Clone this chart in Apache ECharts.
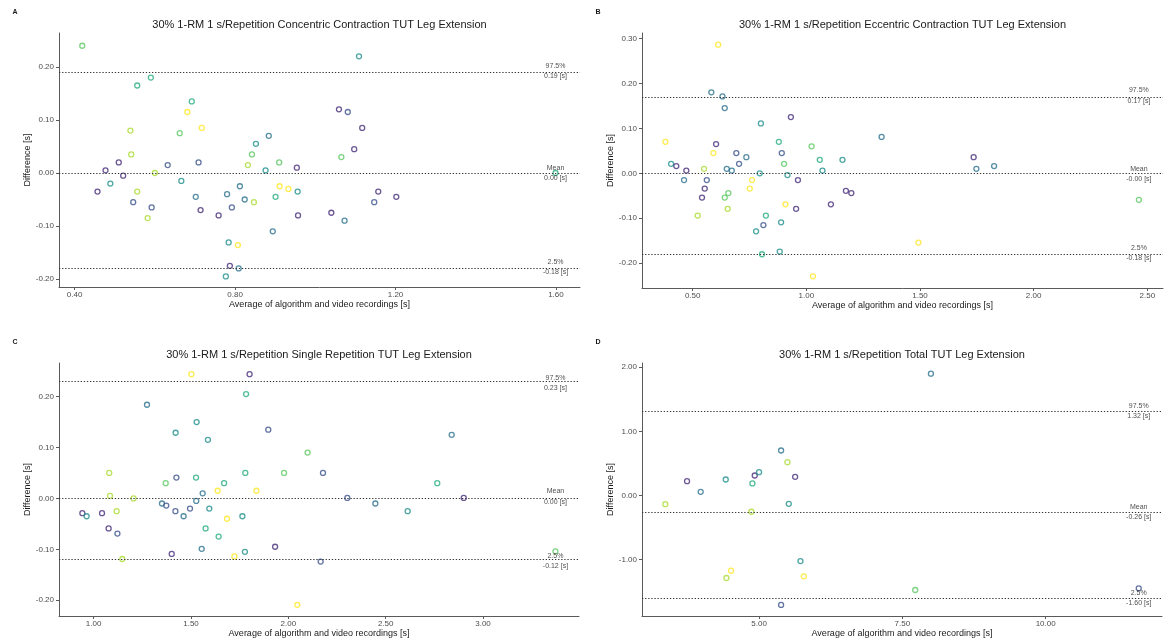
<!DOCTYPE html>
<html><head><meta charset="utf-8">
<script src="https://cdn.jsdelivr.net/npm/echarts@6/dist/echarts.min.js"></script>
<style>html,body{margin:0;padding:0;background:#fff}#c{width:1167px;height:640px}</style>
</head><body><div id="c"></div>
<script>
// ---- Data ----
const palette = ['#472d7b','#3b528b','#2c728e','#21908d','#27ad81','#5dc863','#aadc32','#fde725'];
const titles = [
  '30% 1-RM 1 s/Repetition Concentric Contraction TUT Leg Extension',
  '30% 1-RM 1 s/Repetition Eccentric Contraction TUT Leg Extension',
  '30% 1-RM 1 s/Repetition Single Repetition TUT Leg Extension',
  '30% 1-RM 1 s/Repetition Total TUT Leg Extension'
];
const letters = ['A','B','C','D'];
const limitNames = ['97.5%','Mean','2.5%'];
const xName = 'Average of algorithm and video recordings [s]';
const yName = 'Difference [s]';

// Panel A
const aX = [0.419,0.590,0.556,0.692,0.681,0.717,0.539,0.662,0.884,0.852,0.541,0.842,0.510,0.709,0.910,0.632,0.832,0.477,0.876,0.954,0.600,0.521,0.666,0.489,0.812,0.911,0.933,0.457,0.556,0.956,0.780,0.702,0.901,0.824,0.546,0.847,0.592,0.792,0.714,0.759,0.957,0.582,0.894,0.784,0.807,0.787,0.777,0.809,1.109,1.059,1.081,1.117,1.097,1.065,1.157,1.202,1.147,1.040,1.073,1.599];
const aY = [0.240,0.180,0.165,0.135,0.115,0.085,0.080,0.075,0.070,0.055,0.035,0.035,0.020,0.020,0.020,0.015,0.015,0.005,0.005,0.010,0.000,-0.005,-0.015,-0.020,-0.025,-0.025,-0.030,-0.035,-0.035,-0.035,-0.040,-0.045,-0.045,-0.050,-0.055,-0.055,-0.065,-0.065,-0.070,-0.080,-0.080,-0.085,-0.110,-0.131,-0.136,-0.175,-0.195,-0.180,0.220,0.120,0.115,0.085,0.045,0.030,-0.035,-0.045,-0.055,-0.075,-0.090,0.000];
const aG = [5,4,4,4,7,7,6,5,2,3,6,5,0,1,5,1,6,0,3,0,6,0,3,3,2,7,7,0,6,3,2,2,4,2,1,6,1,1,0,0,0,6,2,3,7,0,3,2,3,0,1,0,0,5,0,0,1,0,2,4];
const aLimits = [0.193, 0.000, -0.176];
const aXTicks = [0.4,0.8,1.2,1.6];
const aYTicks = [-0.2,-0.1,0,0.1,0.2];

// Panel B
const bX = [0.612,0.582,0.631,0.641,0.932,0.800,0.380,0.879,1.023,0.603,0.591,0.692,0.892,0.736,1.059,1.159,0.405,0.428,0.704,0.902,0.550,0.650,0.672,0.472,1.071,0.795,0.917,0.462,0.562,0.761,0.963,0.553,0.751,0.657,1.174,1.198,0.541,0.641,0.908,1.108,0.654,0.955,0.522,0.822,0.779,0.889,0.811,0.805,0.883,1.029,1.331,1.736,1.748,1.826,2.463,1.493];
const bY = [0.286,0.180,0.171,0.145,0.125,0.111,0.070,0.070,0.060,0.065,0.045,0.045,0.045,0.036,0.030,0.030,0.021,0.016,0.021,0.021,0.010,0.010,0.006,0.006,0.006,0.000,-0.004,-0.015,-0.015,-0.015,-0.015,-0.034,-0.034,-0.044,-0.039,-0.044,-0.054,-0.054,-0.069,-0.069,-0.079,-0.079,-0.094,-0.094,-0.129,-0.109,-0.115,-0.180,-0.174,-0.229,0.081,0.036,0.010,0.016,-0.059,-0.154];
const bG = [7,2,2,2,0,3,7,4,5,0,7,1,1,2,4,3,3,0,1,5,6,2,2,0,3,3,3,2,1,7,0,0,7,5,0,0,0,5,7,0,6,0,6,4,3,3,1,4,3,7,2,0,2,2,5,7];
const bLimits = [0.174, -0.001, -0.177];
const bXTicks = [0.5,1.0,1.5,2.0,2.5];
const bYTicks = [-0.2,-0.1,0,0.1,0.2,0.3];

// Panel C
const cX = [1.502,1.801,1.783,1.274,1.529,1.421,1.587,1.897,1.080,1.779,1.978,1.425,1.526,1.370,1.670,1.637,1.836,1.560,1.084,1.205,1.527,1.351,1.373,1.594,1.495,1.420,1.118,0.942,0.964,1.043,1.462,1.764,1.685,1.575,1.077,1.122,1.642,1.932,1.555,1.777,1.723,1.401,1.147,2.046,2.099,2.178,2.303,2.447,2.613,2.765,2.839,2.901,2.166,3.372];
const cY = [0.244,0.244,0.205,0.184,0.150,0.129,0.115,0.135,0.050,0.050,0.050,0.041,0.041,0.030,0.030,0.015,0.015,0.010,0.005,0.000,-0.005,-0.010,-0.014,-0.020,-0.020,-0.025,-0.025,-0.029,-0.035,-0.029,-0.035,-0.035,-0.040,-0.059,-0.059,-0.069,-0.075,-0.095,-0.099,-0.105,-0.114,-0.109,-0.119,-0.209,0.090,0.050,0.001,-0.010,-0.025,0.030,0.125,0.001,-0.124,-0.104];
const cG = [7,0,4,2,3,3,3,1,6,4,5,1,4,5,4,7,7,2,6,6,2,2,1,3,1,1,6,0,3,0,2,3,7,4,0,1,4,0,2,3,7,0,6,7,5,1,1,2,3,4,2,0,1,5];
const cLimits = [0.227, 0.0046, -0.122];
const cXTicks = [1.0,1.5,2.0,2.5,3.0];
const cYTicks = [-0.2,-0.1,0,0.1,0.2];

// Panel D
const dX = [3.364,3.743,3.981,4.418,4.884,4.924,5.000,4.866,5.384,5.495,5.629,5.518,5.722,5.780,4.511,4.430,5.384,7.998,7.724,11.624];
const dY = [-0.135,0.223,0.057,0.249,0.187,0.311,0.363,-0.254,0.701,0.519,0.291,-0.130,-1.022,-1.261,-1.173,-1.287,-1.707,1.899,-1.474,-1.448];
const dG = [6,0,2,3,4,0,3,6,2,6,0,3,3,7,7,6,1,2,5,1];
const dLimits = [1.322, -0.257, -1.597];
const dXTicks = [5.0,7.5,10.0];
const dYTicks = [-1,0,1,2];

// ---- Layout ----
const panels = [
  {x:aX,y:aY,g:aG,lim:aLimits,xt:aXTicks,yt:aYTicks,xr:[0.361,1.66],yr:[-0.215,0.264]},
  {x:bX,y:bY,g:bG,lim:bLimits,xt:bXTicks,yt:bYTicks,xr:[0.277,2.569],yr:[-0.255,0.312]},
  {x:cX,y:cY,g:cG,lim:cLimits,xt:cXTicks,yt:cYTicks,xr:[0.822,3.493],yr:[-0.231,0.266]},
  {x:dX,y:dY,g:dG,lim:dLimits,xt:dXTicks,yt:dYTicks,xr:[2.957,12.03],yr:[-1.879,2.065]}
];
const layout = [
  {left:59,top:33,width:521,height:254},
  {left:642,top:33,width:521,height:255},
  {left:59,top:363,width:520,height:253},
  {left:642,top:363,width:520,height:253}
];
const FONT = 'Liberation Sans, Arial, sans-serif';
const axisColor = '#5a5a5a';

const grid = [], xAxis = [], yAxis = [], series = [], graphic = [];
panels.forEach((p, i) => {
  const L = layout[i];
  grid.push({left:L.left, top:L.top, width:L.width, height:L.height, containLabel:false});
  xAxis.push({
    type:'value', gridIndex:i, min:p.xr[0], max:p.xr[1],
    name:xName, nameLocation:'middle', nameGap:12,
    nameTextStyle:{fontFamily:FONT, fontSize:9, color:'#1a1a1a'},
    axisLine:{show:true, onZero:false, lineStyle:{color:axisColor, width:1}},
    axisTick:{show:true, length:3, customValues:p.xt, lineStyle:{color:axisColor}},
    axisLabel:{show:true, customValues:p.xt, margin:4, fontFamily:FONT, fontSize:8, color:'#4d4d4d',
      formatter:v => Number(v).toFixed(2)},
    splitLine:{show:false}
  });
  yAxis.push({
    type:'value', gridIndex:i, min:p.yr[0], max:p.yr[1],
    name:yName, nameLocation:'middle', nameGap:20, nameRotate:90,
    nameTextStyle:{fontFamily:FONT, fontSize:9, color:'#1a1a1a'},
    axisLine:{show:true, onZero:false, lineStyle:{color:axisColor, width:1}},
    axisTick:{show:true, length:3, customValues:p.yt, lineStyle:{color:axisColor}},
    axisLabel:{show:true, customValues:p.yt, margin:5, fontFamily:FONT, fontSize:8, color:'#4d4d4d',
      formatter:v => Number(v).toFixed(2)},
    splitLine:{show:false}
  });
  series.push({
    type:'scatter', xAxisIndex:i, yAxisIndex:i, symbol:'circle', symbolSize:5,
    silent:true, animation:false,
    data:p.x.map((v,k)=>({value:[v,p.y[k]], itemStyle:{color:'rgba(255,255,255,0)', borderColor:palette[p.g[k]], borderWidth:1.3}})),
    markLine:{
      silent:true, symbol:['none','none'], animation:false,
      label:{show:false},
      lineStyle:{type:[1.3,1.8], color:'#333', width:1.2},
      data:p.lim.map(v=>({yAxis:v}))
    }
  });
  const xm = Math.max(...p.x);
  const lab = [];
  p.lim.forEach((v,k)=>{
    lab.push({name:limitNames[k], value:[xm,v], label:{position:'top', distance:1}});
    lab.push({name:v.toFixed(2)+' [s]', value:[xm,v], label:{position:'bottom', distance:2}});
  });
  series.push({
    type:'scatter', xAxisIndex:i, yAxisIndex:i, symbolSize:0.1, silent:true, animation:false,
    itemStyle:{color:'rgba(0,0,0,0)'},
    label:{show:true, formatter:'{b}', fontFamily:FONT, fontSize:7, color:'#222'},
    data:lab
  });
  graphic.push({type:'text', x:L.left+L.width/2, y:L.top-8,
    style:{text:titles[i], fontFamily:FONT, fontSize:11, fill:'#1a1a1a', textAlign:'center', textVerticalAlign:'middle'}});
  graphic.push({type:'text', x:L.left-44, y:L.top-21,
    style:{text:letters[i], fontFamily:FONT, fontSize:7, fontWeight:'bold', fill:'#1a1a1a', textAlign:'center', textVerticalAlign:'middle'}});
});

const chart = echarts.init(document.getElementById('c'), null, {renderer:'canvas'});
chart.setOption({backgroundColor:'#ffffff', animation:false, grid, xAxis, yAxis, series, graphic});
</script>
</body></html>
